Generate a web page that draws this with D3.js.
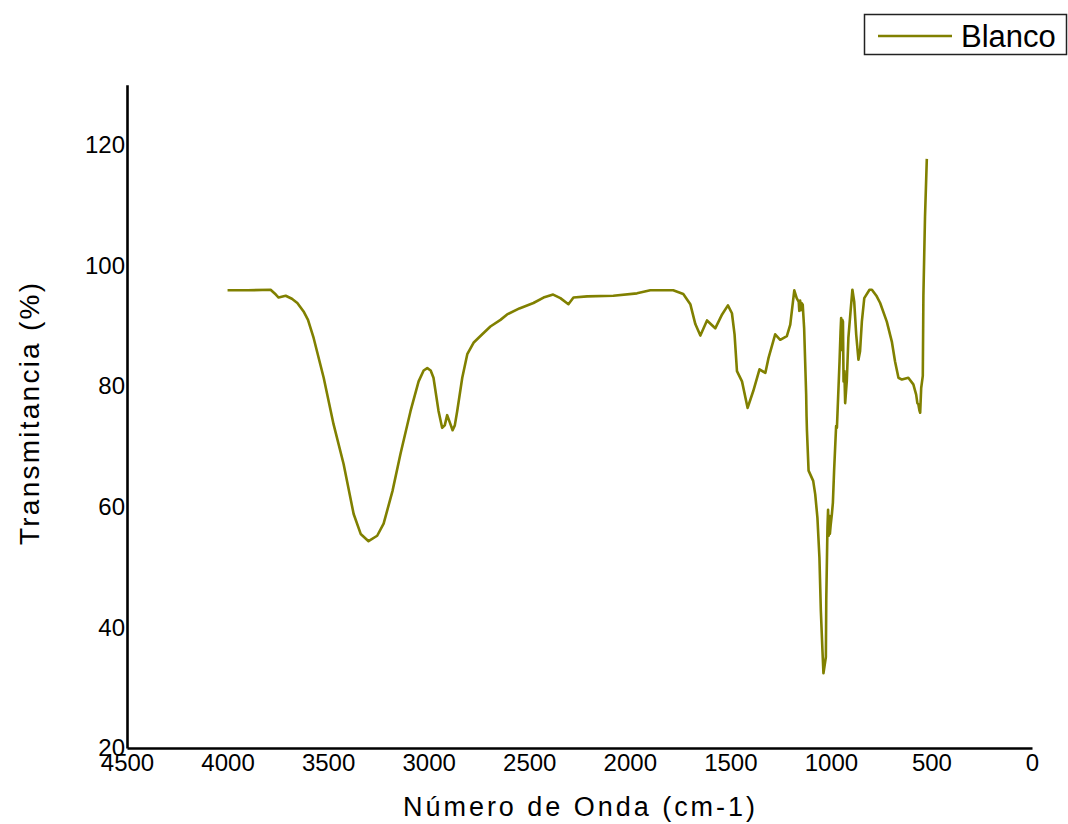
<!DOCTYPE html>
<html>
<head>
<meta charset="utf-8">
<script src="https://cdn.jsdelivr.net/npm/d3@7"></script>
<style>
  html, body { margin: 0; padding: 0; background: #fff; }
  svg { display: block; font-family: "Liberation Sans", Arial, sans-serif; }
</style>
</head>
<body>
<svg id="chart" width="1068" height="824"></svg>
<script>
// ---- data ----
const wavenumber = [
  4000, 3900, 3786, 3760, 3746, 3711, 3680, 3653, 3622, 3600, 3572, 3522, 3473, 3423, 3373, 3338, 3299, 3256, 3224, 3180,
  3140, 3090, 3050, 3025, 3007, 2990, 2976, 2951, 2933, 2920, 2908, 2895, 2881, 2870, 2858, 2833, 2808, 2777, 2740, 2693,
  2643, 2610, 2549, 2479, 2429, 2381, 2345, 2305, 2280, 2212, 2082, 1964, 1898, 1784, 1734, 1699, 1674, 1649, 1616, 1575,
  1541, 1512, 1492, 1479, 1467, 1442, 1414, 1386, 1355, 1326, 1310, 1277, 1252, 1219, 1202, 1182, 1170, 1160, 1157, 1153,
  1149, 1146, 1140, 1133, 1123, 1121, 1119, 1111, 1088, 1078, 1067, 1057, 1050, 1042, 1037, 1032, 1025, 1023, 1017, 1014,
  1011, 1008, 1005, 1001, 995, 990, 984, 974, 970, 957, 952, 949, 946, 943, 940, 937, 933, 929, 925, 921,
  913, 901, 893, 884, 874, 863, 855, 846, 834, 808, 796, 772, 755, 722, 697, 681, 664, 647, 615, 590,
  576, 570, 565, 560, 556, 551, 543, 540, 532, 523
];
const transmittance = [
  95.9, 95.9, 96.0, 95.2, 94.7, 95.0, 94.5, 93.8, 92.4, 91.0, 88.0, 81.4, 73.7, 67.1, 58.8, 55.5, 54.3, 55.2, 57.2, 62.6,
  68.8, 75.9, 80.8, 82.6, 83.0, 82.6, 81.4, 75.9, 73.1, 73.5, 75.2, 74.0, 72.7, 73.5, 75.9, 81.4, 85.3, 87.2, 88.4, 89.9,
  91.0, 91.9, 92.9, 93.8, 94.7, 95.2, 94.6, 93.6, 94.7, 94.9, 95.0, 95.4, 95.9, 95.9, 95.3, 93.6, 90.3, 88.4, 90.9, 89.6,
  91.9, 93.4, 92.1, 88.6, 82.5, 80.8, 76.4, 79.2, 82.8, 82.2, 84.7, 88.6, 87.7, 88.3, 90.2, 95.9, 94.6, 94.0, 92.5, 94.2,
  92.6, 93.8, 93.5, 89.6, 78.7, 75.0, 72.6, 66.0, 64.3, 62.1, 58.2, 51.6, 42.8, 36.2, 32.4, 33.5, 35.1, 44.5, 56.6, 59.5,
  55.2, 58.5, 55.5, 57.0, 58.8, 60.7, 66.0, 73.4, 73.1, 84.1, 89.0, 91.3, 86.0, 91.0, 90.7, 80.8, 82.5, 77.2, 79.0, 80.8,
  88.0, 92.9, 96.0, 94.0, 88.5, 84.4, 85.8, 90.7, 94.6, 96.0, 96.0, 94.9, 93.8, 90.7, 87.4, 84.1, 81.4, 81.1, 81.4, 80.3,
  78.6, 77.2, 77.0, 76.0, 75.6, 79.7, 81.7, 95.1, 108.1, 117.7
];
const xTicks = [4500, 4000, 3500, 3000, 2500, 2000, 1500, 1000, 500, 0];
const yTicks = [20, 40, 60, 80, 100, 120];
const seriesName = "Blanco";
const xTitle = "Número de Onda (cm-1)";
const yTitle = "Transmitancia (%)";

// ---- layout ----
const svg = d3.select("#chart");
const plotLeft = 127, plotRight = 1032, plotBottom = 748;
const lineColor = "#808000";

const x = d3.scaleLinear().domain([4500, 0]).range([plotLeft, plotRight]);
const y = d3.scaleLinear().domain([20, 130]).range([plotBottom, plotBottom - 110 * 6.03]);

const data = wavenumber.map((w, i) => ({ w, t: transmittance[i] }));

// curve
svg.append("path")
  .datum(data)
  .attr("fill", "none")
  .attr("stroke", lineColor)
  .attr("stroke-width", 2.6)
  .attr("stroke-linejoin", "round")
  .attr("d", d3.line().x(d => x(d.w)).y(d => y(d.t)));

// x axis
const gx = svg.append("g")
  .attr("transform", `translate(0,${plotBottom})`)
  .call(d3.axisBottom(x).tickValues(xTicks).tickFormat(d3.format("d")).tickSize(0).tickSizeOuter(0).tickPadding(6));
gx.select(".domain").attr("stroke", "#000").attr("stroke-width", 2.6);
gx.selectAll("text").attr("font-size", 24).attr("fill", "#000")
  .attr("font-family", "'Liberation Sans', Arial, sans-serif");

// y axis
const gy = svg.append("g")
  .attr("transform", `translate(${plotLeft},0)`)
  .call(d3.axisLeft(y).tickValues(yTicks).tickFormat(d3.format("d")).tickSize(0).tickSizeOuter(0).tickPadding(2));
gy.select(".domain").attr("stroke", "#000").attr("stroke-width", 2.6);
gy.selectAll("text").attr("font-size", 24).attr("fill", "#000")
  .attr("font-family", "'Liberation Sans', Arial, sans-serif");

// axis titles
svg.append("text")
  .attr("x", 403).attr("y", 816)
  .attr("font-size", 27)
  .attr("textLength", 352).attr("lengthAdjust", "spacing")
  .attr("fill", "#000")
  .text(xTitle);

svg.append("text")
  .attr("transform", "translate(39,545) rotate(-90)")
  .attr("font-size", 28)
  .attr("textLength", 262).attr("lengthAdjust", "spacing")
  .attr("fill", "#000")
  .text(yTitle);

// legend
const lg = svg.append("g");
lg.append("rect").attr("x", 864.5).attr("y", 14.5).attr("width", 202).attr("height", 40)
  .attr("fill", "#fff").attr("stroke", "#222").attr("stroke-width", 1.5);
lg.append("line").attr("x1", 878).attr("x2", 952).attr("y1", 36).attr("y2", 36)
  .attr("stroke", lineColor).attr("stroke-width", 2.6);
lg.append("text").attr("x", 961).attr("y", 46.5).attr("font-size", 31).attr("fill", "#000").text(seriesName);
</script>
</body>
</html>
